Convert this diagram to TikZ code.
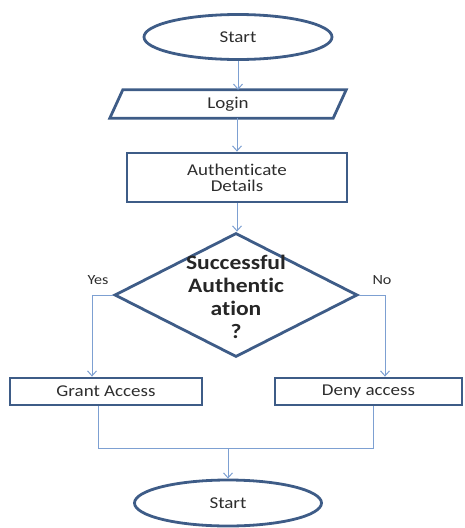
\documentclass[tikz,border=0pt]{standalone}
\usepackage{fontspec}
\setmainfont[FakeStretch=1.15, Ligatures=NoCommon]{Carlito}
\usetikzlibrary{shapes.geometric,arrows.meta,calc}
\definecolor{edgec}{RGB}{62,92,135}
\definecolor{arrowc}{RGB}{125,160,210}
\definecolor{txt}{RGB}{45,45,45}
\begin{document}
\begin{tikzpicture}[x=1pt,y=-1pt,
  shapeline/.style={draw=edgec, line width=2.8pt},
  boxtext/.style={font=\fontsize{16.5}{16}\selectfont, text=txt, align=center},
  box/.style={shapeline, boxtext, rectangle, inner sep=0pt},
  term/.style={shapeline, boxtext, ellipse, inner sep=0pt},
  arr/.style={draw=arrowc, line width=1pt, -{Straight Barb[length=5pt,width=9pt]}},
  lin/.style={draw=arrowc, line width=1pt},
  lbl/.style={font=\fontsize{14}{14}\selectfont, text=txt}]
\useasboundingbox (0,0) rectangle (465,528);

\node[term, minimum width=188pt, minimum height=45pt] (start) at (238,37) {Start};

\node[boxtext, inner sep=0pt, minimum width=223pt, minimum height=28pt] (login) at (228,104) {Login};
\draw[shapeline, line join=miter]
  ($(login.north west)+(6.5,0)$) -- ($(login.north east)+(6.5,0)$) --
  ($(login.south east)+(-6.5,0)$) -- ($(login.south west)+(-6.5,0)$) -- cycle;

\node[box, minimum width=220pt, minimum height=49pt] (auth) at (237,177.5) {Authenticate\\Details};

\node[diamond, shapeline, minimum width=243pt, minimum height=124pt, inner sep=0pt] (dec) at (236,295) {};
\node[font=\bfseries\fontsize{20.5}{23}\selectfont, align=center, text=black!85] (dectext) at (236,297) {Successful\\Authentic\\ation\\?};

\node[lbl] (yes) at (98,280) {Yes};
\node[lbl] (no) at (382,280) {No};

\node[box, minimum width=192pt, minimum height=27pt] (grant) at (106,391.5) {Grant Access};
\node[box, minimum width=187pt, minimum height=27pt] (deny) at (368.5,391.5) {Deny access};

\node[term, minimum width=187pt, minimum height=46pt] (end) at (228,503) {Start};

\coordinate (j) at (228,448);

\draw[arr] (start.south) -- (start.south |- login.north);
\draw[arr] (login.south -| auth.north) -- (auth.north);
\draw[arr] (auth.south) -- (auth.south |- dec.north);
\draw[arr] (dec.west) -| ([xshift=-14pt]grant.north);
\draw[arr] (dec.east) -| ([xshift=16.5pt]deny.north);
\draw[lin] ([xshift=-8pt]grant.south) |- (j);
\draw[lin] ([xshift=4.5pt]deny.south) |- (j);
\draw[arr] (j) -- (end.north);
\end{tikzpicture}
\end{document}
